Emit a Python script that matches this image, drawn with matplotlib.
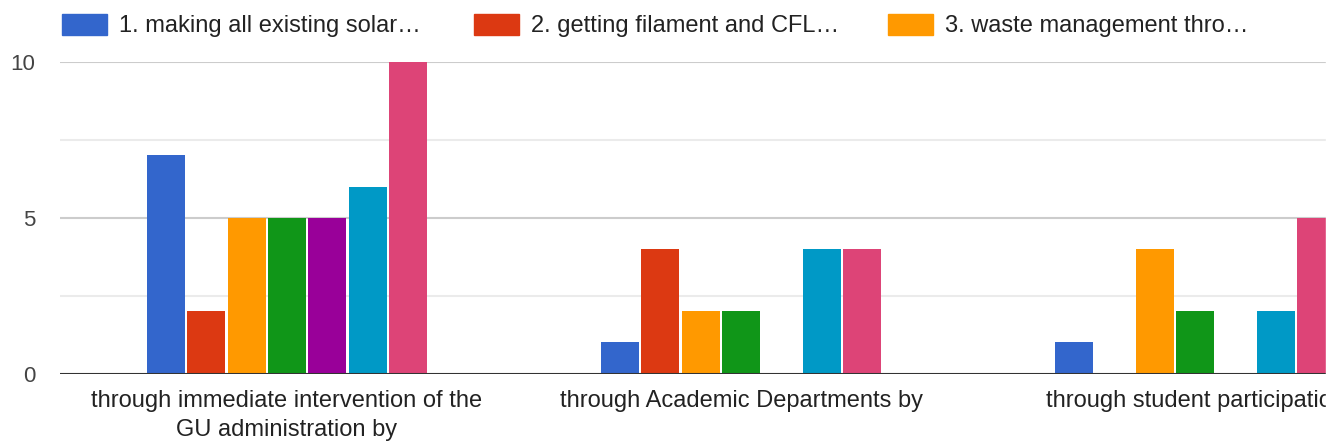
import numpy as np
import matplotlib.pyplot as plt
from matplotlib.patches import Rectangle

plt.rcParams['font.family'] = ['Liberation Sans', 'DejaVu Sans']

categories = ["through immediate intervention of the\nGU administration by",
              "through Academic Departments by",
              "through student participation"]
series_names = ["1. making all existing solar\u2026",
                "2. getting filament and CFL\u2026",
                "3. waste management thro\u2026",
                "4.", "5.", "6.", "7."]
colors = ["#3366cc", "#dc3912", "#ff9900", "#109618",
          "#990099", "#0099c6", "#dd4477"]
values = [
    [7, 1, 1],
    [2, 4, 0],
    [5, 2, 4],
    [5, 2, 2],
    [5, 0, 0],
    [6, 4, 2],
    [10, 4, 5],
]

W, H = 1331, 447
fig = plt.figure(figsize=(W / 100, H / 100), dpi=100)
# plot area runs past the right edge, like the clipped original
left, right = 60, 60 + 3 * 454
bottom, top = 373.5, 62
ax = fig.add_axes([left / W, (H - bottom) / H, (right - left) / W, (bottom - top) / H])

x = np.arange(len(categories))
step = 0.0888
bw = 0.084
for i, (vals, c) in enumerate(zip(values, colors)):
    ax.bar(x + (i - 3) * step, vals, width=bw, color=c, zorder=3)

ax.set_xlim(-0.5, 2.5)
ax.set_ylim(0, 10)
ax.set_yticks([0, 5, 10])
ax.set_yticks([2.5, 7.5], minor=True)
ax.grid(axis='y', which='major', color='#cccccc', linewidth=1.5, zorder=0)
ax.grid(axis='y', which='minor', color='#ebebeb', linewidth=1.5, zorder=0)
ax.axhline(0, color='#333333', linewidth=2.2, zorder=4)
for s in ax.spines.values():
    s.set_visible(False)
ax.tick_params(axis='both', which='both', length=0)
ax.tick_params(axis='y', labelsize=16, labelcolor='#444444', pad=18)
ax.set_yticklabels(['0', '5', '10'])
ax.set_xticks(x)
ax.set_xticklabels(categories, fontsize=17, color='#222222', linespacing=1.4)
ax.tick_params(axis='x', pad=12)

# legend row (first three entries visible)
leg_items = [(62, 0), (474, 1), (888, 2)]
for px, idx in leg_items:
    fig.patches.append(Rectangle((px / W, (H - 35) / H), 45 / W, 21 / H,
                                 transform=fig.transFigure, color=colors[idx]))
    fig.text((px + 57) / W, (H - 26) / H, series_names[idx], fontsize=17,
             color='#222222', va='center', ha='left')

# crop strip on the far right
strip = Rectangle((1326 / W, 0), 5 / W, 1, transform=fig.transFigure,
                  color='white', zorder=10)
fig.add_artist(strip)

fig.savefig('out.png', dpi=100, facecolor='white')
